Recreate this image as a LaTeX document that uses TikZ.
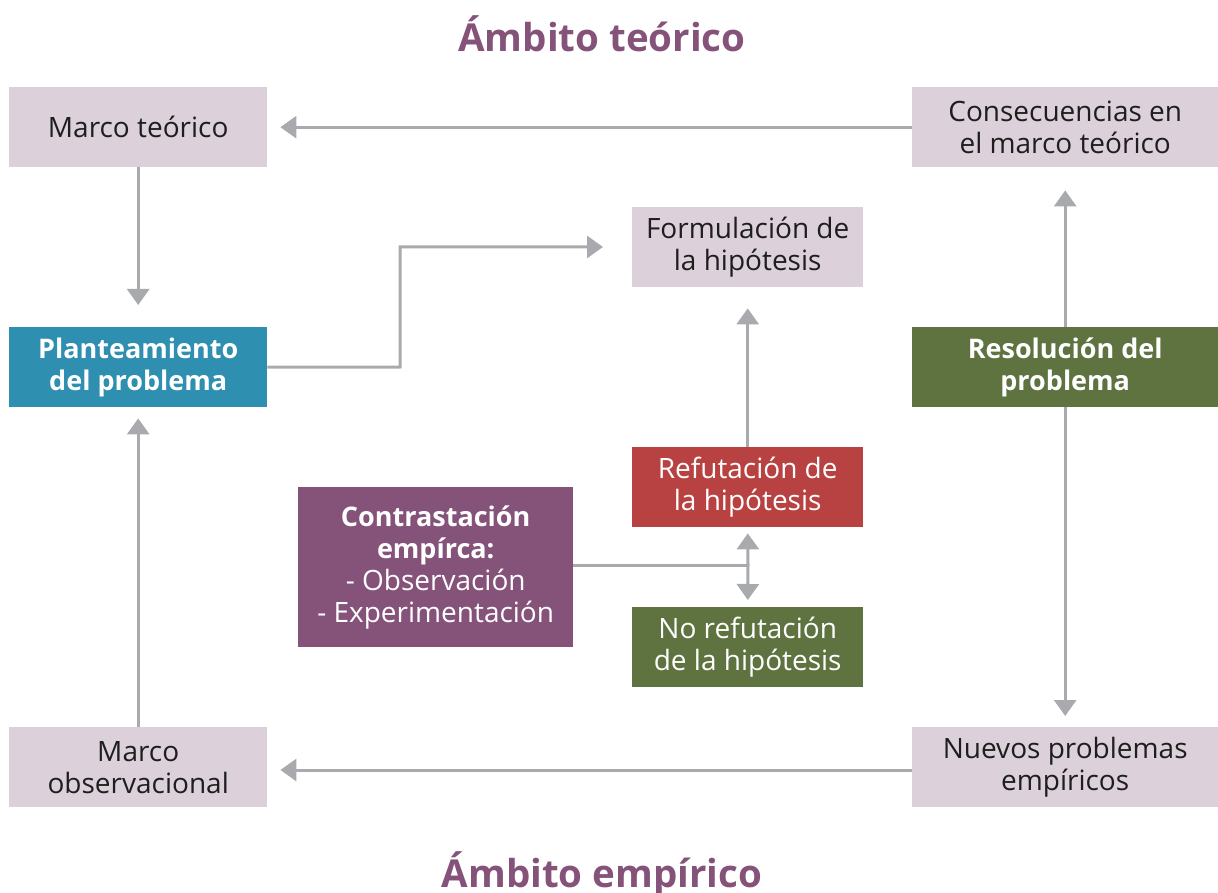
\documentclass[tikz,border=0pt]{standalone}
\usepackage{fontspec}
\setmainfont{Open Sans}
\usetikzlibrary{arrows.meta,calc}
\definecolor{lightbox}{HTML}{DCD1DA}
\definecolor{bluebox}{HTML}{2E8FB1}
\definecolor{greenbox}{HTML}{5E7340}
\definecolor{redbox}{HTML}{B84241}
\definecolor{purplebox}{HTML}{85527A}
\definecolor{conn}{HTML}{A9AAAE}
\definecolor{txt}{HTML}{1E1E1E}
\begin{document}
\begin{tikzpicture}[x=1pt,y=-1pt,
  box/.style={anchor=north west, inner sep=0pt, align=center, font=\fontsize{28}{32}\selectfont},
  boldtext/.style={font=\fontsize{27}{32}\selectfont\bfseries},
  lbox/.style={box, fill=lightbox, text=txt},
  cbox/.style={box, text=white},
  arr/.style={draw=conn, line width=3pt, -{Triangle[width=22pt,length=16pt]}},
  ln/.style={draw=conn, line width=3pt},
  title/.style={text=purplebox, font=\fontsize{38.5}{40}\selectfont\bfseries}]
\useasboundingbox (0,0) rectangle (1218,893);
\node[title] (t1) at (602,34) {Ámbito teórico};
\node[title] (t2) at (602,874) {Ámbito empírico};

\node[lbox, minimum width=258pt, minimum height=80pt] (mt) at (9,87) {Marco teórico};
\node[lbox, minimum width=306pt, minimum height=80pt] (cm) at (912,87) {Consecuencias en\\el marco teórico};
\node[lbox, minimum width=231pt, minimum height=80pt] (fh) at (632,207) {Formulación de\\la hipótesis};
\node[cbox, fill=bluebox, minimum width=258pt, minimum height=80pt, boldtext] (pp) at (9,327) {Planteamiento\\del problema};
\node[cbox, fill=greenbox, minimum width=306pt, minimum height=80pt, boldtext] (rp) at (912,327) {Resolución del\\problema};
\node[cbox, fill=redbox, minimum width=231pt, minimum height=80pt] (rh) at (632,447) {Refutación de\\la hipótesis};
\node[cbox, fill=purplebox, minimum width=275pt, minimum height=160pt] (ce) at (298,487) {{\fontsize{27}{32}\selectfont\bfseries Contrastación}\\{\fontsize{27}{32}\selectfont\bfseries empírca:}\\- Observación\\- Experimentación};
\node[cbox, fill=greenbox, minimum width=231pt, minimum height=80pt] (nr) at (632,607) {No refutación\\de la hipótesis};
\node[lbox, minimum width=258pt, minimum height=80pt] (mo) at (9,727) {Marco\\observacional};
\node[lbox, minimum width=306pt, minimum height=80pt] (np) at (912,727) {Nuevos problemas\\empíricos};

\coordinate (j) at (748,565);

\draw[arr, shorten >=13pt] (cm.west) -- (mt.east);
\draw[arr, shorten >=13pt] (np.west |- 0,770) -- (mo.east |- 0,770);
\draw[arr, shorten >=22pt] (mt.south) -- (pp.north);
\draw[arr, shorten >=11pt] (mo.north) -- (pp.south);
\draw[arr, shorten >=29pt] (pp.east) -- (400,367) -- (400,247) -- (fh.west |- 0,247);
\draw[arr, shorten >=21pt] (rh.north) -- (fh.south);
\draw[arr, shorten >=23pt] (rp.north) -- (cm.south);
\draw[arr, shorten >=11pt] (rp.south) -- (np.north);
\draw[ln] (ce.east |- j) -- (j);
\draw[arr, shorten >=6pt] (j) -- (rh.south);
\draw[arr, shorten >=7pt] (j) -- (nr.north);
\end{tikzpicture}
\end{document}
